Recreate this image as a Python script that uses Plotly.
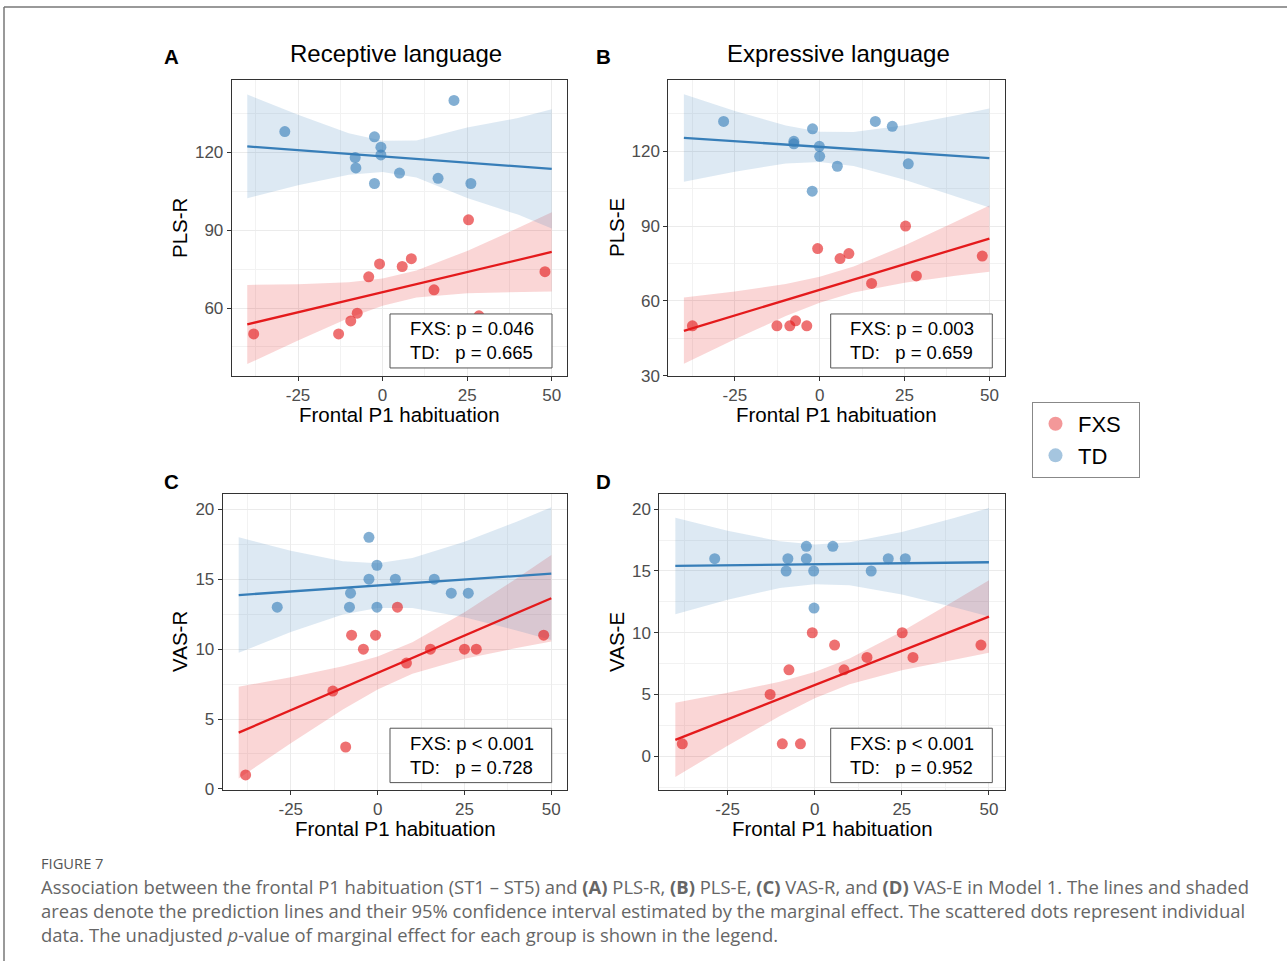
import plotly.graph_objects as go

# ---------------- data ----------------
ribbon_x = [-40, -25, -10, 0, 10, 25, 40, 50]
line_x = [-40, 50]

# Panel A: PLS-R
a_fxs_x = [-38.1, -13.0, -9.4, -7.5, -4.1, -0.9, 5.8, 8.5, 15.2, 25.4, 28.5, 48.0]
a_fxs_y = [50, 50, 55, 58, 72, 77, 76, 79, 67, 94, 57, 74]
a_td_x = [-28.9, -2.4, -0.5, -0.5, -8.1, -7.9, -2.4, 5.0, 16.4, 21.1, 26.1]
a_td_y = [128, 126, 122, 119, 118, 114, 108, 112, 110, 140, 108]
a_fxs_fit = [53.7, 81.6]
a_td_fit = [122.3, 113.6]
a_fxs_upper = [68.9, 69.2, 69.9, 71.4, 74.5, 82.0, 90.8, 96.9]
a_fxs_lower = [38.4, 47.5, 56.1, 60.9, 64.0, 65.7, 66.2, 66.4]
a_td_upper = [142.3, 134.5, 127.4, 124.5, 124.6, 129.6, 133.2, 136.6]
a_td_lower = [102.3, 107.3, 111.4, 112.4, 110.3, 102.4, 96.0, 90.6]

# Panel B: PLS-E
b_fxs_x = [-37.5, -12.6, -8.8, -7.1, -3.8, -0.6, 6.0, 8.6, 15.3, 25.3, 28.5, 47.9]
b_fxs_y = [50, 50, 50, 52, 50, 81, 77, 79, 67, 90, 70, 78]
b_td_x = [-28.3, -2.1, -7.6, -7.6, -0.1, 0.0, 5.2, -2.2, 16.4, 21.4, 26.1]
b_td_y = [132, 129, 124, 123, 122, 118, 114, 104, 132, 130, 115]
b_fxs_fit = [48.0, 85.0]
b_td_fit = [125.4, 117.3]
b_fxs_upper = [61.4, 63.8, 66.8, 69.7, 73.8, 82.2, 91.7, 98.3]
b_fxs_lower = [34.8, 44.6, 53.9, 59.3, 63.4, 67.3, 70.1, 71.7]
b_td_upper = [142.9, 136.2, 130.3, 127.8, 127.7, 130.4, 134.4, 137.2]
b_td_lower = [107.8, 111.8, 115.1, 115.7, 114.1, 108.6, 102.0, 97.5]

# Panel C: VAS-R
c_fxs_x = [-38.0, -9.2, -12.9, -7.5, -4.1, -0.6, 5.7, 8.3, 15.2, 25.0, 28.4, 47.8]
c_fxs_y = [1, 3, 7, 11, 10, 11, 13, 9, 10, 10, 10, 11]
c_td_x = [-28.9, -2.5, -0.2, -2.5, 5.1, 16.3, -7.8, -8.1, -0.2, 21.2, 26.1]
c_td_y = [13, 18, 16, 15, 15, 15, 14, 13, 13, 14, 14]
c_fxs_fit = [4.03, 13.64]
c_td_fit = [13.87, 15.4]
c_fxs_upper = [7.31, 7.99, 8.78, 9.48, 10.50, 12.63, 15.06, 16.74]
c_fxs_lower = [0.75, 3.27, 5.68, 7.12, 8.24, 9.31, 10.08, 10.54]
c_td_upper = [18.0, 17.04, 16.29, 16.15, 16.51, 17.68, 19.12, 20.15]
c_td_lower = [9.74, 11.22, 12.47, 12.95, 12.94, 12.28, 11.34, 10.65]

# Panel D: VAS-E
d_fxs_x = [-38.0, -9.3, -4.1, -12.8, -7.4, -0.7, 5.7, 8.4, 15.0, 25.1, 28.2, 47.7]
d_fxs_y = [1, 1, 1, 5, 7, 10, 9, 7, 8, 10, 8, 9]
d_td_x = [-28.7, -2.4, 5.2, -7.7, -2.4, -8.2, -0.3, 16.2, 21.1, 26.0, -0.2]
d_td_y = [16, 17, 17, 16, 16, 15, 15, 15, 16, 16, 12]
d_fxs_fit = [1.32, 11.31]
d_td_fit = [15.41, 15.71]
d_fxs_upper = [4.32, 5.13, 6.04, 6.82, 7.91, 10.11, 12.57, 14.25]
d_fxs_lower = [-1.68, 0.85, 3.26, 4.70, 5.83, 6.97, 7.83, 8.37]
d_td_upper = [19.32, 18.26, 17.41, 17.15, 17.32, 18.16, 19.29, 20.10]
d_td_lower = [11.50, 12.67, 13.62, 13.93, 13.84, 13.10, 12.07, 11.32]

panel_titles = ["Receptive language", "Expressive language"]
panel_letters = ["A", "B", "C", "D"]
y_titles = ["PLS-R", "PLS-E", "VAS-R", "VAS-E"]
x_title = "Frontal P1 habituation"
p_texts = [
    ("FXS: p = 0.046", "TD:\u00a0\u00a0\u00a0p = 0.665"),
    ("FXS: p = 0.003", "TD:\u00a0\u00a0\u00a0p = 0.659"),
    ("FXS: p < 0.001", "TD:\u00a0\u00a0\u00a0p = 0.728"),
    ("FXS: p < 0.001", "TD:\u00a0\u00a0\u00a0p = 0.952"),
]
x_ticks = [-25, 0, 25, 50]
group_names = ["FXS", "TD"]

caption_head = "FIGURE 7"
caption_lines = [
    "Association between the frontal P1 habituation (ST1 \u2013 ST5) and <b>(A)</b> PLS-R, <b>(B)</b> PLS-E, "
    "<b>(C)</b> VAS-R, and <b>(D)</b> VAS-E in Model 1. The lines and shaded",
    "areas denote the prediction lines and their 95% confidence interval estimated by the marginal effect. "
    "The scattered dots represent individual",
    "data. The unadjusted <i>p</i>-value of marginal effect for each group is shown in the legend.",
]

# ---------------- layout geometry ----------------
W, H = 1287, 971
YS = 1.0103  # vertical compensation for the capture


def fx(p):
    return p / W


def fy(p):
    return 1 - p * YS / H


panels = [
    dict(x=(231.7, 567.3), y=(80, 376), yr=(33.8, 147.9), dt=30, mdt=15,
         fxs=(a_fxs_x, a_fxs_y, a_fxs_fit, a_fxs_upper, a_fxs_lower),
         td=(a_td_x, a_td_y, a_td_fit, a_td_upper, a_td_lower),
         box=(390, 314, 552, 368)),
    dict(x=(668.3, 1005), y=(80, 376), yr=(29.9, 148.6), dt=30, mdt=15,
         fxs=(b_fxs_x, b_fxs_y, b_fxs_fit, b_fxs_upper, b_fxs_lower),
         td=(b_td_x, b_td_y, b_td_fit, b_td_upper, b_td_lower),
         box=(830.7, 314, 992.3, 368)),
    dict(x=(222.7, 567.3), y=(494, 790), yr=(-0.07, 21.1), dt=5, mdt=2.5,
         fxs=(c_fxs_x, c_fxs_y, c_fxs_fit, c_fxs_upper, c_fxs_lower),
         td=(c_td_x, c_td_y, c_td_fit, c_td_upper, c_td_lower),
         box=(390, 728.3, 551.7, 782.7)),
    dict(x=(659.3, 1005), y=(494, 790), yr=(-2.73, 21.24), dt=5, mdt=2.5,
         fxs=(d_fxs_x, d_fxs_y, d_fxs_fit, d_fxs_upper, d_fxs_lower),
         td=(d_td_x, d_td_y, d_td_fit, d_td_upper, d_td_lower),
         box=(830.7, 728.3, 992.3, 782.7)),
]

RED = "#E41A1C"
BLUE = "#377EB8"
RED_FILL = "rgba(228,26,28,0.18)"
BLUE_FILL = "rgba(55,126,184,0.17)"
FONT = "Liberation Sans, Arial, sans-serif"
CAP_FONT = "Open Sans, sans-serif"
XRANGE = [-44.6, 54.6]

fig = go.Figure()
layout = dict(
    width=W, height=H, margin=dict(l=0, r=0, t=0, b=0),
    paper_bgcolor="white", plot_bgcolor="white",
    font=dict(family=FONT, color="black"),
    showlegend=True,
)
annotations = []
shapes = []

for i, p in enumerate(panels):
    sfx = "" if i == 0 else str(i + 1)
    xa, ya = "x" + sfx, "y" + sfx
    for grp, fill in ((p["fxs"], RED_FILL), (p["td"], BLUE_FILL)):
        gx, gy, fit, up, lo = grp
        fig.add_trace(go.Scatter(
            x=ribbon_x + ribbon_x[::-1], y=up + lo[::-1], fill="toself",
            fillcolor=fill, line=dict(width=0), mode="lines",
            hoverinfo="skip", showlegend=False, xaxis=xa, yaxis=ya))
    for grp, col in ((p["fxs"], RED), (p["td"], BLUE)):
        gx, gy, fit, up, lo = grp
        fig.add_trace(go.Scatter(
            x=line_x, y=fit, mode="lines", line=dict(color=col, width=2.3),
            showlegend=False, xaxis=xa, yaxis=ya))
    for grp, col, name in ((p["fxs"], RED, "FXS"), (p["td"], BLUE, "TD")):
        gx, gy, fit, up, lo = grp
        fig.add_trace(go.Scatter(
            x=gx, y=gy, mode="markers", name=name,
            marker=dict(color=col, size=11, opacity=0.62, line=dict(width=0)),
            showlegend=False, xaxis=xa, yaxis=ya))

    axis_common = dict(
        showline=True, mirror=True, linecolor="#333333", linewidth=1,
        ticks="outside", ticklen=4, tickcolor="#333333", tickwidth=1,
        showgrid=True, gridcolor="#EBEBEB", gridwidth=1, zeroline=False,
        tickfont=dict(family=FONT, size=17, color="#4D4D4D"),
    )
    layout["xaxis" + sfx] = dict(
        axis_common, domain=[fx(p["x"][0]), fx(p["x"][1])], range=XRANGE,
        tickmode="array", tickvals=x_ticks, ticktext=[str(v) for v in x_ticks],
        minor=dict(tickmode="array", tickvals=[-37.5, -12.5, 12.5, 37.5],
                   showgrid=True, gridcolor="#F2F2F2", gridwidth=0.6, ticks=""),
        anchor=ya,
    )
    layout["yaxis" + sfx] = dict(
        axis_common, domain=[fy(p["y"][1]), fy(p["y"][0])], range=list(p["yr"]),
        tick0=0, dtick=p["dt"],
        minor=dict(tick0=0, dtick=p["mdt"], showgrid=True, gridcolor="#F2F2F2",
                   gridwidth=0.6, ticks=""),
        anchor=xa,
    )

    bx0, by0, bx1, by1 = p["box"]
    shapes.append(dict(type="rect", xref="paper", yref="paper",
                       x0=fx(bx0), x1=fx(bx1), y0=fy(by1), y1=fy(by0),
                       fillcolor="white", line=dict(color="#555555", width=1),
                       layer="above"))
    annotations.append(dict(
        xref="paper", yref="paper", x=fx((bx0 + bx1) / 2 + 1), y=fy((by0 + by1) / 2),
        text=p_texts[i][0] + "<br>" + p_texts[i][1], showarrow=False, align="left",
        xanchor="center", yanchor="middle",
        font=dict(family=FONT, size=18.5, color="black")))

    xc = (p["x"][0] + p["x"][1]) / 2
    yc = (p["y"][0] + p["y"][1]) / 2
    annotations.append(dict(xref="paper", yref="paper", x=fx(xc), y=fy(p["y"][1] + 39),
                            text=x_title, showarrow=False, xanchor="center", yanchor="middle",
                            font=dict(family=FONT, size=20.5, color="black")))
    ytx = 180 if i % 2 == 0 else 617
    annotations.append(dict(xref="paper", yref="paper", x=fx(ytx), y=fy(yc),
                            text=y_titles[i], showarrow=False, textangle=-90,
                            xanchor="center", yanchor="middle",
                            font=dict(family=FONT, size=20.5, color="black")))
    lx = 171 if i % 2 == 0 else 603
    ly = 57 if i < 2 else 482
    annotations.append(dict(xref="paper", yref="paper", x=fx(lx), y=fy(ly),
                            text="<b>" + panel_letters[i] + "</b>", showarrow=False,
                            xanchor="center", yanchor="middle",
                            font=dict(family=FONT, size=20.5, color="black")))

annotations.append(dict(xref="paper", yref="paper", x=fx(396), y=fy(54), text=panel_titles[0],
                        showarrow=False, xanchor="center", yanchor="middle",
                        font=dict(family=FONT, size=24, color="black")))
annotations.append(dict(xref="paper", yref="paper", x=fx(838), y=fy(54), text=panel_titles[1],
                        showarrow=False, xanchor="center", yanchor="middle",
                        font=dict(family=FONT, size=24, color="black")))

for name, col in zip(group_names, (RED, BLUE)):
    fig.add_trace(go.Scatter(x=[None], y=[None], mode="markers", name=name + "\u00a0\u00a0",
                             marker=dict(color=col, size=14, opacity=0.45),
                             showlegend=True))
layout["legend"] = dict(
    x=fx(1032), y=fy(402), xanchor="left", yanchor="top",
    bgcolor="white", bordercolor="#888888", borderwidth=1,
    font=dict(family=FONT, size=22, color="black"),
    itemsizing="trace", itemwidth=35, tracegroupgap=2,
)

annotations.append(dict(xref="paper", yref="paper", x=fx(39), y=fy(863), text=caption_head,
                        showarrow=False, xanchor="left", yanchor="middle",
                        font=dict(family=CAP_FONT, size=14.7, color="#555555")))
for k, line in enumerate(caption_lines):
    annotations.append(dict(xref="paper", yref="paper", x=fx(39), y=fy(887 + 24 * k), text=line,
                            showarrow=False, xanchor="left", yanchor="middle",
                            font=dict(family=CAP_FONT, size=18.45, color="#666666")))

shapes.append(dict(type="line", xref="paper", yref="paper", x0=fx(4), x1=1, y0=fy(7), y1=fy(7),
                   line=dict(color="#777777", width=1.5)))
shapes.append(dict(type="line", xref="paper", yref="paper", x0=fx(4), x1=fx(4), y0=fy(7), y1=0,
                   line=dict(color="#777777", width=1.5)))

layout["annotations"] = annotations
layout["shapes"] = shapes
fig.update_layout(**layout)
fig.write_html("out.html", config={"displayModeBar": False},
               post_script="document.body.style.margin='0';document.body.style.overflow='hidden';")
